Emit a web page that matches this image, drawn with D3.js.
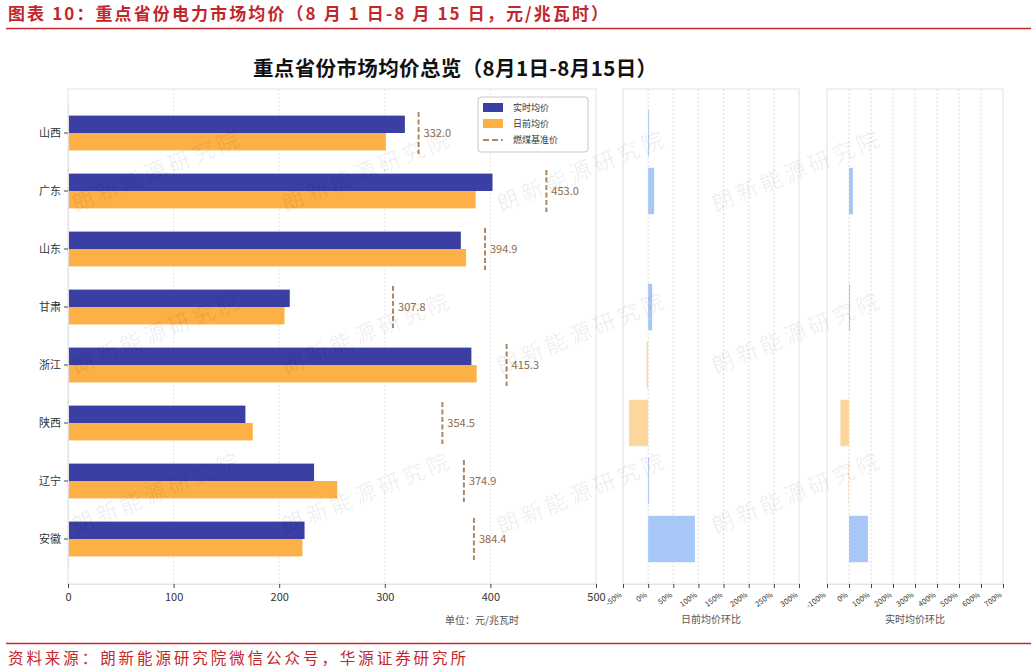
<!DOCTYPE html>
<html><head><meta charset="utf-8">
<script src="https://cdn.jsdelivr.net/npm/d3@7"></script>
<style>
html,body{margin:0;padding:0;background:#fff;}
text{font-family:"Noto Sans CJK SC","Noto Sans",sans-serif;}
</style></head>
<body>
<svg id="c" width="1031" height="672"></svg>
<script>
// ---- data ----
const provinces = ["山西","广东","山东","甘肃","浙江","陕西","辽宁","安徽"];
const realtimePrice = [319, 402, 372, 210, 382, 168, 233, 224];
const dayaheadPrice = [301, 386, 377, 205, 387, 175, 255, 222];
const coalBenchmark = [332.0, 453.0, 394.9, 307.8, 415.3, 354.5, 374.9, 384.4];
const dayaheadChange = [2, 12, 0, 8, -3, -38, 2, 93];   // %
const realtimeChange = [0, 18, 1, 5, 0, -39, -2, 86];   // %
const mainTicks = [0, 100, 200, 300, 400, 500];
const dayaheadTicks = [-50, 0, 50, 100, 150, 200, 250, 300];
const realtimeTicks = [-100, 0, 100, 200, 300, 400, 500, 600, 700];
const legendLabels = ["实时均价", "日前均价", "燃煤基准价"];

const svg = d3.select("#c");
const red = "#c2272d";
const blue = "#3b3ea3", orange = "#fdb045";
const posC = "#a7c8f6", negC = "#fcd69c";
const brown = "#ab8966";

// header
svg.append("text").attr("x", 8).attr("y", 20).attr("fill", red)
  .attr("font-size", 17).attr("font-weight", "bold")
  .attr("textLength", 600).attr("lengthAdjust", "spacing")
  .text("图表 10：重点省份电力市场均价（8 月 1 日-8 月 15 日，元/兆瓦时）");
svg.append("line").attr("x1", 6).attr("x2", 1031).attr("y1", 28.5).attr("y2", 28.5)
  .attr("stroke", red).attr("stroke-width", 1.6);
svg.append("line").attr("x1", 6).attr("x2", 1031).attr("y1", 643.5).attr("y2", 643.5)
  .attr("stroke", red).attr("stroke-width", 1.4);
svg.append("text").attr("x", 8).attr("y", 664).attr("fill", red)
  .attr("font-size", 15.5).attr("textLength", 458).attr("lengthAdjust", "spacing")
  .text("资料来源：朗新能源研究院微信公众号，华源证券研究所");

// chart title
svg.append("text").attr("x", 455).attr("y", 76).attr("text-anchor", "middle")
  .attr("font-size", 20.5).attr("font-weight", "bold").attr("fill", "#111")
  .attr("textLength", 404).attr("lengthAdjust", "spacing")
  .text("重点省份市场均价总览（8月1日-8月15日）");

const plotTop = 89, plotBottom = 584;
const y = d3.scaleBand().domain(provinces).range([104, 568]).padding(0);
const bw = y.bandwidth();

// ---------- main panel ----------
const x = d3.scaleLinear().domain([0, 500]).range([68, 596]);
const gMain = svg.append("g");
gMain.append("rect").attr("x", 68).attr("y", plotTop).attr("width", 596 - 68).attr("height", plotBottom - plotTop)
  .attr("fill", "none").attr("stroke", "#e2e2e2");
gMain.selectAll(".grid").data(mainTicks.slice(1, -1)).join("line")
  .attr("x1", d => x(d)).attr("x2", d => x(d)).attr("y1", plotTop).attr("y2", plotBottom)
  .attr("stroke", "#e6e6e6").attr("stroke-dasharray", "2,2");

const hb = bw * 0.3;
gMain.selectAll(".rt").data(provinces).join("rect")
  .attr("x", x(0)).attr("y", d => y(d) + bw / 2 - hb)
  .attr("width", (d, i) => x(realtimePrice[i]) - x(0)).attr("height", hb).attr("fill", blue);
gMain.selectAll(".da").data(provinces).join("rect")
  .attr("x", x(0)).attr("y", d => y(d) + bw / 2)
  .attr("width", (d, i) => x(dayaheadPrice[i]) - x(0)).attr("height", hb).attr("fill", orange);
gMain.selectAll(".bm").data(provinces).join("line")
  .attr("x1", (d, i) => x(coalBenchmark[i])).attr("x2", (d, i) => x(coalBenchmark[i]))
  .attr("y1", d => y(d) + bw / 2 - bw * 0.36).attr("y2", d => y(d) + bw / 2 + bw * 0.36)
  .attr("stroke", brown).attr("stroke-width", 2).attr("stroke-dasharray", "5,2.5");
gMain.selectAll(".bmt").data(provinces).join("text")
  .attr("x", (d, i) => x(coalBenchmark[i]) + 5).attr("y", d => y(d) + bw / 2 + 4)
  .attr("font-size", 11).attr("fill", "#8c6a4c")
  .text((d, i) => coalBenchmark[i].toFixed(1));

// y axis
const yAxis = gMain.append("g").attr("transform", "translate(68,0)")
  .call(d3.axisLeft(y).tickSize(4).tickSizeOuter(0).tickPadding(3));
yAxis.select(".domain").attr("stroke", "#e2e2e2");
yAxis.selectAll(".tick line").attr("stroke", "#444");
yAxis.selectAll(".tick text").attr("font-size", 11).attr("fill", "#333");

// x axis
const xAxis = gMain.append("g").attr("transform", `translate(0,${plotBottom})`)
  .call(d3.axisBottom(x).tickValues(mainTicks).tickSize(4).tickSizeOuter(0).tickPadding(5).tickFormat(d3.format("d")));
xAxis.select(".domain").attr("stroke", "#e2e2e2");
xAxis.selectAll(".tick line").attr("stroke", "#444");
xAxis.selectAll(".tick text").attr("font-size", 11).attr("fill", "#333").attr("font-family", "Liberation Sans, Arial, sans-serif");
svg.append("text").attr("x", 482).attr("y", 624).attr("text-anchor", "middle")
  .attr("font-size", 10).attr("fill", "#555").text("单位：元/兆瓦时");

// legend
const lg = svg.append("g").attr("transform", "translate(478,97)");
lg.append("rect").attr("width", 110).attr("height", 55).attr("rx", 3)
  .attr("fill", "#fff").attr("stroke", "#c8c8c8");
const lgColors = [blue, orange];
lg.selectAll(".lp").data(lgColors).join("rect")
  .attr("x", 5).attr("y", (d, i) => 6 + i * 16).attr("width", 20).attr("height", 9).attr("fill", d => d);
lg.append("line").attr("x1", 5).attr("x2", 25).attr("y1", 43).attr("y2", 43)
  .attr("stroke", brown).attr("stroke-width", 2).attr("stroke-dasharray", "6,3");
lg.selectAll(".lt").data(legendLabels).join("text")
  .attr("x", 35).attr("y", (d, i) => 14 + i * 16).attr("font-size", 9).attr("fill", "#333")
  .text(d => d);

// ---------- change panels ----------
function changePanel(x0, x1, domain, ticks, values, title) {
  const sx = d3.scaleLinear().domain(domain).range([x0, x1]);
  const g = svg.append("g");
  g.append("rect").attr("x", x0).attr("y", plotTop).attr("width", x1 - x0).attr("height", plotBottom - plotTop)
    .attr("fill", "none").attr("stroke", "#e2e2e2");
  g.selectAll(".grid").data(ticks.slice(1, -1)).join("line")
    .attr("x1", d => sx(d)).attr("x2", d => sx(d)).attr("y1", plotTop).attr("y2", plotBottom)
    .attr("stroke", "#dcdcdc").attr("stroke-dasharray", "2,2");
  g.selectAll(".b").data(provinces).join("rect")
    .attr("x", (d, i) => Math.min(sx(0), sx(values[i])))
    .attr("y", d => y(d) + bw * 0.1)
    .attr("width", (d, i) => Math.abs(sx(values[i]) - sx(0)))
    .attr("height", bw * 0.8)
    .attr("fill", (d, i) => values[i] >= 0 ? posC : negC);
  const ax = g.append("g").attr("transform", `translate(0,${plotBottom})`)
    .call(d3.axisBottom(sx).tickValues(ticks).tickSize(4).tickSizeOuter(0).tickFormat(d => d + "%"));
  ax.select(".domain").attr("stroke", "#e2e2e2");
  ax.selectAll(".tick line").attr("stroke", "#444");
  ax.selectAll(".tick text").attr("font-size", 7.5).attr("fill", "#333")
    .attr("text-anchor", "end").attr("dy", 0).attr("y", 0)
    .attr("transform", "translate(-1,12) rotate(-35)")
    .attr("font-family", "Liberation Sans, Arial, sans-serif");
  svg.append("text").attr("x", (x0 + x1) / 2).attr("y", 623).attr("text-anchor", "middle")
    .attr("font-size", 10).attr("fill", "#555").text(title);
}
changePanel(623, 799, [-50, 300], dayaheadTicks, dayaheadChange, "日前均价环比");
changePanel(827, 1003, [-100, 700], realtimeTicks, realtimeChange, "实时均价环比");

// watermark
const wmX = [160, 370, 585, 800], wmY = [178, 340, 500];
const wm = svg.append("g").attr("pointer-events", "none");
wmY.forEach(yy => wmX.forEach(xx => {
  wm.append("text").attr("transform", `translate(${xx},${yy}) rotate(-22)`)
    .attr("text-anchor", "middle").attr("font-size", 22).attr("letter-spacing", 4)
    .attr("fill", "#000").attr("fill-opacity", 0.07).text("朗新能源研究院");
}));
</script>
</body></html>
